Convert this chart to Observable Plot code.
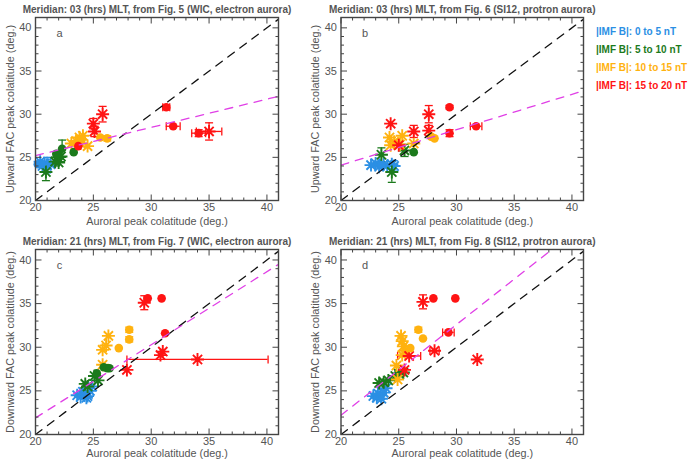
<!DOCTYPE html>
<html>
<head>
<meta charset="utf-8">
<script src="https://cdn.jsdelivr.net/npm/d3@7"></script>
<script src="https://cdn.jsdelivr.net/npm/@observablehq/plot@0.6"></script>
<style>
  body { margin: 0; background: #fff; }
  #fig { position: relative; width: 688px; height: 464px; font-family: "Liberation Sans", Arial, sans-serif; }
  #fig svg { position: absolute; }
  .leg { position: absolute; left: 596px; font-weight: bold; font-size: 10px; white-space: nowrap; line-height: 12px; }
</style>
</head>
<body>
<div id="fig"></div>
<script>
// IMF |B| bins and their colours
const groupNames = ["|IMF B|: 0 to 5 nT", "|IMF B|: 5 to 10 nT", "|IMF B|: 10 to 15 nT", "|IMF B|: 15 to 20 nT"];
const groupColors = ["#2b8fe4", "#1c7a1c", "#ffb20f", "#ff1414"];

// Axis ticks
const majorTicks = [20, 25, 30, 35, 40];
const minorTicks = [21, 22, 23, 24, 26, 27, 28, 29, 31, 32, 33, 34, 36, 37, 38, 39];

// Rows: [bin, marker ("s" = asterisk, "o" = disc), auroral colat, FAC colat, x error, y error]
const pointsA = [
  [0, "o", 20.2, 24.2, 0, 0], [0, "s", 20.4, 24.5, 0, 0], [0, "s", 20.6, 24.0, 0, 0], [0, "s", 20.8, 24.3, 0, 0],
  [0, "s", 21.0, 24.1, 0, 0.9], [0, "s", 21.3, 24.2, 0, 0], [0, "o", 20.5, 24.2, 0, 0],
  [1, "s", 20.9, 23.3, 0, 1.0], [1, "s", 21.7, 24.5, 0, 0.5], [1, "s", 21.9, 25.0, 0, 0], [1, "s", 22.2, 25.1, 0, 0.6],
  [1, "s", 22.0, 24.4, 0, 0], [1, "o", 22.3, 26.0, 0, 1.0], [1, "o", 21.8, 25.4, 0, 0], [1, "o", 23.3, 25.6, 0, 0],
  [2, "s", 23.1, 26.6, 0, 0], [2, "s", 23.5, 26.9, 0, 0], [2, "s", 23.8, 27.3, 0, 0], [2, "s", 24.1, 27.5, 0, 0],
  [2, "o", 24.0, 27.1, 0, 0], [2, "s", 24.5, 26.3, 0, 0], [2, "s", 23.9, 26.6, 0, 0], [2, "o", 25.6, 27.3, 0, 0],
  [2, "o", 26.2, 27.2, 0, 0.3],
  [3, "o", 23.7, 26.3, 0, 0], [3, "s", 25.0, 28.9, 0, 0.6], [3, "s", 25.1, 28.0, 0, 0.6], [3, "s", 25.8, 30.0, 0, 0.9],
  [3, "o", 31.3, 30.8, 0.3, 0.2], [3, "o", 31.9, 28.6, 0.6, 0], [3, "o", 34.1, 27.8, 0.6, 0.4], [3, "s", 35.0, 28.0, 1.1, 1.0]
];
const pointsB = [
  [0, "s", 22.6, 24.1, 0, 0], [0, "s", 23.0, 24.3, 0, 0], [0, "s", 23.3, 23.9, 0, 0], [0, "s", 23.7, 24.2, 0, 0],
  [0, "s", 24.0, 24.0, 0, 0], [0, "s", 24.4, 24.2, 0, 0], [0, "s", 24.6, 24.0, 0, 0.6], [0, "o", 23.5, 24.1, 0, 0],
  [1, "s", 23.5, 25.3, 0, 0.8], [1, "s", 24.4, 23.3, 0, 1.2], [1, "s", 25.5, 25.8, 0, 0.7], [1, "o", 26.3, 25.6, 0, 0],
  [2, "s", 24.2, 27.3, 0, 0], [2, "s", 24.3, 26.4, 0, 0], [2, "s", 24.6, 26.8, 0, 0], [2, "s", 25.3, 27.5, 0, 0],
  [2, "s", 25.1, 26.5, 0, 0], [2, "s", 26.3, 26.6, 0, 0], [2, "o", 27.8, 27.4, 0, 0], [2, "o", 28.1, 27.2, 0, 0],
  [3, "s", 24.3, 28.9, 0, 0], [3, "s", 25.0, 26.4, 0, 0], [3, "s", 26.3, 28.0, 0, 0.7], [3, "s", 27.6, 30.0, 0, 1.0],
  [3, "s", 27.6, 28.1, 0, 0.6], [3, "o", 29.4, 30.8, 0, 0.2], [3, "o", 29.4, 27.8, 0, 0.4], [3, "o", 31.7, 28.6, 0.5, 0]
];
const pointsC = [
  [0, "s", 23.6, 24.5, 0, 0], [0, "s", 23.9, 24.3, 0, 0], [0, "s", 24.2, 24.6, 0, 0], [0, "s", 24.5, 24.4, 0, 0],
  [0, "s", 24.7, 25.0, 0, 0], [0, "s", 24.1, 24.9, 0, 0], [0, "s", 24.9, 25.5, 0, 0], [0, "s", 24.4, 24.2, 0, 0],
  [1, "s", 24.3, 25.8, 0, 0], [1, "s", 24.5, 25.5, 0, 0], [1, "s", 25.1, 26.7, 0, 0], [1, "s", 25.4, 26.2, 0, 0],
  [1, "o", 25.3, 27.0, 0, 0], [1, "o", 25.9, 27.7, 0, 0], [1, "o", 26.2, 27.6, 0, 0], [1, "o", 26.4, 27.6, 0, 0],
  [2, "s", 25.8, 28.0, 0, 0], [2, "s", 25.8, 29.7, 0, 0], [2, "s", 26.1, 30.2, 0, 0], [2, "s", 26.3, 31.3, 0, 0],
  [2, "o", 27.2, 29.9, 0, 0], [2, "o", 28.1, 32.0, 0, 0.3], [2, "o", 28.1, 30.9, 0, 0.3],
  [3, "s", 27.9, 27.4, 0, 0], [3, "s", 34.0, 28.6, 6.1, 0], [3, "s", 29.4, 35.1, 0, 0.8], [3, "o", 29.7, 35.6, 0, 0],
  [3, "o", 30.9, 35.6, 0, 0], [3, "o", 31.2, 31.6, 0, 0], [3, "s", 31.0, 29.5, 0, 0], [3, "s", 30.8, 29.1, 0, 0]
];
const pointsD = [
  [0, "s", 22.8, 24.4, 0, 0], [0, "s", 23.1, 24.2, 0, 0], [0, "s", 23.4, 24.5, 0, 0], [0, "s", 23.7, 24.8, 0, 0],
  [0, "s", 23.9, 25.3, 0, 0], [0, "s", 23.2, 24.7, 0, 0], [0, "s", 23.5, 24.1, 0, 0],
  [1, "s", 23.3, 25.9, 0, 0], [1, "s", 23.7, 26.0, 0, 0], [1, "s", 24.1, 26.2, 0, 0], [1, "s", 24.7, 26.7, 0, 0],
  [1, "s", 25.0, 27.0, 0, 0], [1, "s", 25.4, 27.1, 0, 0],
  [2, "s", 24.8, 27.9, 0, 0], [2, "s", 24.9, 26.3, 0, 0], [2, "s", 25.2, 31.3, 0, 0], [2, "s", 25.3, 30.7, 0, 0],
  [2, "s", 25.4, 30.1, 0, 0], [2, "s", 25.6, 29.6, 0, 0], [2, "s", 25.3, 29.1, 0, 0], [2, "o", 26.0, 29.9, 0, 0],
  [2, "o", 26.7, 32.0, 0, 0.3], [2, "o", 27.1, 31.0, 0, 0],
  [3, "s", 25.9, 29.0, 1.0, 0], [3, "s", 25.5, 27.4, 0, 0], [3, "s", 27.1, 35.2, 0, 0.8], [3, "o", 28.0, 35.6, 0, 0],
  [3, "o", 29.9, 35.6, 0, 0], [3, "o", 29.3, 31.7, 0.5, 0], [3, "s", 28.1, 29.6, 0.4, 0], [3, "s", 31.8, 28.6, 0, 0]
];

// Linear fits (FAC = intercept + slope * auroral) for panels a-d
const fitIntercepts = [18.66, 15.9, 5.14, 1.4];
const fitSlopes = [0.327, 0.41, 0.838, 1.04];

const titles = [
  "Meridian: 03 (hrs) MLT, from Fig. 5 (WIC, electron aurora)",
  "Meridian: 03 (hrs) MLT, from Fig. 6 (SI12, protron aurora)",
  "Meridian: 21 (hrs) MLT, from Fig. 7 (WIC, electron aurora)",
  "Meridian: 21 (hrs) MLT, from Fig. 8 (SI12, protron aurora)"
];
const panelLetters = ["a", "b", "c", "d"];
const yLabels = ["Upward FAC peak colatitude (deg.)", "Upward FAC peak colatitude (deg.)",
                 "Downward FAC peak colatitude (deg.)", "Downward FAC peak colatitude (deg.)"];
const xLabel = "Auroral peak colatitude (deg.)";

// Custom path symbols
const seg = (dx, dy) => ({draw(ctx) { ctx.moveTo(0, 0); ctx.lineTo(dx, dy); }});
const hcap = {draw(ctx) { ctx.moveTo(-4, 0); ctx.lineTo(4, 0); }};
const vcap = {draw(ctx) { ctx.moveTo(0, -4); ctx.lineTo(0, 4); }};
const star = {draw(ctx) {
  for (let k = 0; k < 4; k++) {
    const a = k * Math.PI / 4, c = 6.5 * Math.cos(a), s = 6.5 * Math.sin(a);
    ctx.moveTo(-c, -s); ctx.lineTo(c, s);
  }
}};

const FONT = "'Liberation Sans', Arial, sans-serif";
const AX = "#444";
const TXT = "#555";

function panel(i, rows, mt, mb, xLabDy) {
  const yErr = rows.filter(r => r[5] > 0);
  const xErr = rows.filter(r => r[4] > 0);
  const stars = rows.filter(r => r[1] === "s");
  const discs = rows.filter(r => r[1] === "o");
  const x0 = 20, x1 = 41;
  const fit = [x0, x1].map(x => ({x, y: fitIntercepts[i] + fitSlopes[i] * x}));
  const diag = [x0, x1].map(x => ({x, y: x}));
  const tickMarks = (vals, len) => [
    Plot.dot(vals, {x: d => d, frameAnchor: "bottom", symbol: seg(0, -len), stroke: AX, fill: "none", strokeWidth: 1}),
    Plot.dot(vals, {x: d => d, frameAnchor: "top", symbol: seg(0, len), stroke: AX, fill: "none", strokeWidth: 1}),
    Plot.dot(vals, {y: d => d, frameAnchor: "left", symbol: seg(len, 0), stroke: AX, fill: "none", strokeWidth: 1}),
    Plot.dot(vals, {y: d => d, frameAnchor: "right", symbol: seg(-len, 0), stroke: AX, fill: "none", strokeWidth: 1})
  ];
  return Plot.plot({
    width: 344, height: 232,
    marginLeft: i % 2 ? 34.5 : 35, marginRight: i % 2 ? 67 : 66,
    marginTop: mt, marginBottom: mb,
    x: {domain: [20, 41]},
    y: {domain: [20, 41.2]},
    color: {domain: [0, 1, 2, 3], range: groupColors},
    style: {fontFamily: FONT, fontSize: "11px", color: TXT, background: "transparent", overflow: "visible"},
    marks: [
      Plot.axisX({ticks: majorTicks, tickSize: 0, tickPadding: 3, label: null, fontSize: 11}),
      Plot.axisY({ticks: majorTicks, tickSize: 0, tickPadding: 4, label: null, fontSize: 11}),
      Plot.text([titles[i]], {text: d => d, frameAnchor: "top", lineAnchor: "middle", textAnchor: "middle",
        dy: -8, fontWeight: "bold", fontSize: 10, fill: TXT}),
      Plot.text([xLabel], {text: d => d, frameAnchor: "bottom", lineAnchor: "middle", textAnchor: "middle",
        dy: xLabDy, fontSize: 10.8, fill: TXT}),
      Plot.text([yLabels[i]], {text: d => d, frameAnchor: "left", lineAnchor: "middle", textAnchor: "middle",
        dx: -25, rotate: -90, fontSize: 10.8, fill: TXT}),
      Plot.text([panelLetters[i]], {text: d => d, frameAnchor: "top-left", lineAnchor: "middle", textAnchor: "middle",
        dx: 24, dy: 16, fontSize: 11, fill: TXT}),
      // error bars
      Plot.ruleX(yErr, {x: r => r[2], y1: r => r[3] - r[5], y2: r => r[3] + r[5], stroke: r => r[0], strokeWidth: 1.3}),
      Plot.dot(yErr, {x: r => r[2], y: r => r[3] - r[5], symbol: hcap, stroke: r => r[0], fill: "none", strokeWidth: 1.3}),
      Plot.dot(yErr, {x: r => r[2], y: r => r[3] + r[5], symbol: hcap, stroke: r => r[0], fill: "none", strokeWidth: 1.3}),
      Plot.ruleY(xErr, {y: r => r[3], x1: r => r[2] - r[4], x2: r => r[2] + r[4], stroke: r => r[0], strokeWidth: 1.3}),
      Plot.dot(xErr, {x: r => r[2] - r[4], y: r => r[3], symbol: vcap, stroke: r => r[0], fill: "none", strokeWidth: 1.3}),
      Plot.dot(xErr, {x: r => r[2] + r[4], y: r => r[3], symbol: vcap, stroke: r => r[0], fill: "none", strokeWidth: 1.3}),
      // markers
      Plot.dot(stars, {x: r => r[2], y: r => r[3], symbol: star, stroke: r => r[0], fill: "none", strokeWidth: 1.9}),
      Plot.dot(discs, {x: r => r[2], y: r => r[3], r: 4.3, fill: r => r[0], stroke: "none"}),
      // one-to-one line and linear fit
      Plot.line(diag, {x: "x", y: "y", stroke: "#111", strokeWidth: 1.3, strokeDasharray: "8,7", clip: true}),
      Plot.line(fit, {x: "x", y: "y", stroke: "#e040e6", strokeWidth: 1.3, strokeDasharray: "8,7", clip: true}),
      ...tickMarks(minorTicks, 3),
      ...tickMarks(majorTicks, 6),
      Plot.frame({stroke: AX, strokeWidth: 1.4})
    ]
  });
}

const fig = document.getElementById("fig");
const specs = [
  [0, pointsA, 17, 32, 20.7, 0, 0],
  [1, pointsB, 17, 32, 20.7, 306, 0],
  [2, pointsC, 17, 30, 18.7, 0, 232],
  [3, pointsD, 17, 30, 18.7, 306, 232]
];
for (const [i, rows, mt, mb, dy, left, top] of specs) {
  const svg = panel(i, rows, mt, mb, dy);
  svg.style.left = left + "px";
  svg.style.top = top + "px";
  fig.appendChild(svg);
}

// legend
const legTops = [32, 50, 68, 86];
groupNames.forEach((name, k) => {
  const d = document.createElement("div");
  d.className = "leg";
  d.style.top = (legTops[k] - 6) + "px";
  d.style.color = groupColors[k];
  d.textContent = name;
  fig.appendChild(d);
});
</script>
</body>
</html>
